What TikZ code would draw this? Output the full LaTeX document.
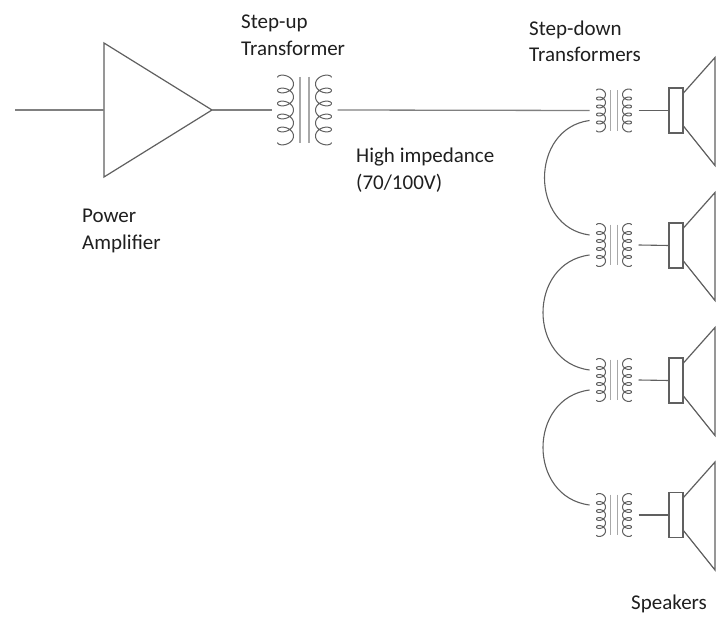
\documentclass[tikz,border=0pt]{standalone}
\usepackage{fontspec}
\setmainfont{Carlito}
\definecolor{ink}{HTML}{606060}
\definecolor{wiregray}{HTML}{808080}
\definecolor{coregray}{HTML}{A8A8A8}
\tikzset{
  x=1pt,y=-1pt,
  wire/.style={draw=ink,line width=1.1pt},
  softwire/.style={draw=wiregray,line width=1.3pt},
  outline/.style={draw=ink,line width=1.2pt,line join=miter},
  core/.style={draw=coregray,line width=1.6pt},
  coil/.style={draw=ink,line width=1pt},
  label/.style={anchor=north west,align=left,inner sep=0pt,font=\fontsize{21}{26.5}\selectfont,text=black!88},
  pics/xfmr/.style n args={5}{code={
    % #1 pitch, #2 half width of coil, #3 coil centre offset, #4 core half gap, #5 lead offset
    \draw[coil] plot[smooth,samples=150,domain=-180:1620]
      ({-(#3)+(#2)*cos(\x)},{(#1)*(\x-720)/360+0.4*(#1)*sin(\x)});
    \draw[coil] plot[smooth,samples=150,domain=-180:1620]
      ({(#3)-(#2)*cos(\x)},{(#1)*(\x-720)/360+0.4*(#1)*sin(\x)});
    \draw[core] (-#4,-2.55*#1) -- (-#4,2.55*#1);
    \draw[core] (#4,-2.55*#1) -- (#4,2.55*#1);
    \coordinate (-pri) at ({-(#3)-(#2)-(#5)},0);
    \coordinate (-sec) at ({(#3)+(#2)+(#5)},0);
    \coordinate (-up) at ({-(#3)-(#2)-(#5)},-10);
    \coordinate (-lo) at ({-(#3)-(#2)-(#5)},10);
  }},
  pics/speaker/.style={code={
    \draw[outline] (-14,-22.5) rectangle (0,22.5);
    \draw[outline] (0,-17) -- (32,-53) -- (32,55) -- (0,15);
    \coordinate (-in) at (-14,0);
  }}
}
\begin{document}
\begin{tikzpicture}
\useasboundingbox[fill=white] (0,0) rectangle (720,617);
% amplifier
\draw[outline] (104,43) coordinate (ampt) -- (212,110) coordinate (ampout) -- (104,177) coordinate (ampb) -- cycle;
\coordinate (ampin) at (104,110);
\coordinate (source) at (15,110);
\draw[softwire] (source) -- (ampin);
% transformers
\pic (T0) at (304.5,110) {xfmr={13}{8}{19}{4.5}{6}};
\pic (T1) at (614,110.5) {xfmr={8}{4.5}{13}{3.5}{7}};
\pic (T2) at (614,245) {xfmr={8}{4.5}{13}{3.5}{7}};
\pic (T3) at (614,380) {xfmr={8}{4.5}{13}{3.5}{7}};
\pic (T4) at (614,515) {xfmr={8}{4.5}{13}{3.5}{7}};
% speakers
\pic (S1) at (683,110.5) {speaker};
\pic (S2) at (683,245.5) {speaker};
\pic (S3) at (683,380.5) {speaker};
\pic (S4) at (683,515) {speaker};
% connectors
\draw[softwire] (ampout) -- (T0-pri);
\draw[softwire] (T0-sec) -- (T1-pri);
\foreach \n in {1,2,3,4}{\draw[wire] (T\n-sec) -- (S\n-in);}
\draw[wire] (T1-lo) .. controls +(-60,8) and +(-60,-8) .. (T2-up);
\draw[wire] (T2-lo) .. controls +(-62,8) and +(-62,-8) .. (T3-up);
\draw[wire] (T3-lo) .. controls +(-62,8) and +(-62,-8) .. (T4-up);
% labels
\node[label] (lstepup) at (241,15) {Step-up\\Transformer};
\node[label] (lstepdown) at (529,20.5) {Step-down\\Transformers};
\node[label] (lhigh) at (356,148) {High impedance\\(70/100V)};
\node[label] (lpower) at (82,209) {Power\\Amplifier};
\node[label] (lspk) at (631,595) {Speakers};
\end{tikzpicture}
\end{document}
